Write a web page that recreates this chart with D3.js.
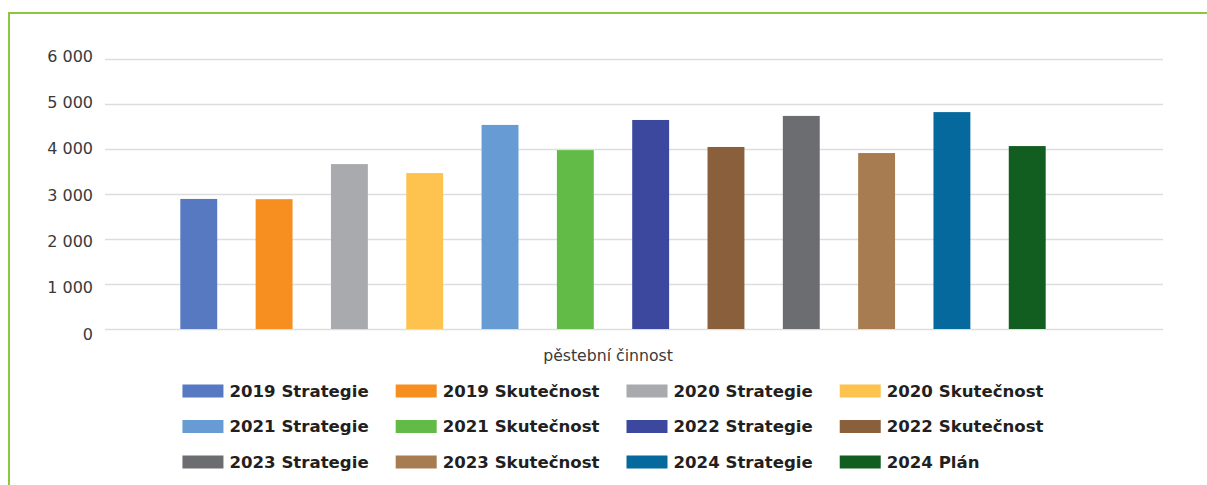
<!DOCTYPE html>
<html>
<head>
<meta charset="utf-8">
<script src="https://cdn.jsdelivr.net/npm/d3@7"></script>
<style>
  body { margin: 0; background: #fff; }
  svg { display: block; }
</style>
</head>
<body>
<script>
const categories = ["pěstební činnost"];
const series = [
  "2019 Strategie", "2019 Skutečnost", "2020 Strategie", "2020 Skutečnost",
  "2021 Strategie", "2021 Skutečnost", "2022 Strategie", "2022 Skutečnost",
  "2023 Strategie", "2023 Skutečnost", "2024 Strategie", "2024 Plán"
];
const values = [2890, 2885, 3665, 3465, 4535, 3975, 4645, 4045, 4735, 3910, 4820, 4065];
const colors = [
  "#5779c1", "#f68f1f", "#a9aaad", "#fec24f",
  "#669bd3", "#62bb46", "#3c489e", "#8a5f3b",
  "#6c6d71", "#a77c50", "#06699d", "#115e20"
];
const yTicks = [0, 1000, 2000, 3000, 4000, 5000, 6000];

const width = 1207;
const height = 485;
const font = "'DejaVu Sans', 'Liberation Sans', sans-serif";

const svg = d3.select("body").append("svg")
    .attr("width", width)
    .attr("height", height);

// green frame (top and left edges)
svg.append("line")
    .attr("x1", 8).attr("x2", width).attr("y1", 13).attr("y2", 13)
    .attr("stroke", "#8dc63f").attr("stroke-width", 2);
svg.append("line")
    .attr("x1", 9).attr("x2", 9).attr("y1", 12).attr("y2", height)
    .attr("stroke", "#8dc63f").attr("stroke-width", 2);

const plot = { left: 105, right: 1163, top: 59, bottom: 329 };

const y = d3.scaleLinear()
    .domain([0, 6000])
    .range([plot.bottom, plot.top]);

// tick labels sit on a slightly wider spread than the gridlines
const yLabel = d3.scaleLinear()
    .domain([0, 6000])
    .range([333.5, 55.5]);

const x0 = d3.scaleBand()
    .domain(categories)
    .range([plot.left, 1121]);

const x1 = d3.scaleBand()
    .domain(series)
    .range([0, x0.bandwidth()])
    .paddingInner(0.51)
    .paddingOuter(1.0);

const fmt = v => d3.format(",")(v).replace(/,/g, " ");

// gridlines + tick labels
const yAxis = svg.append("g")
    .attr("transform", `translate(${plot.left},0)`)
    .call(d3.axisLeft(y).tickValues(yTicks).tickSize(-(plot.right - plot.left)).tickPadding(12).tickFormat(fmt));
yAxis.select(".domain").remove();
yAxis.selectAll(".tick line").attr("stroke", "#dddddd").attr("stroke-width", 1.5);
yAxis.selectAll(".tick text")
    .attr("fill", "#3a3a3a")
    .attr("dy", null)
    .attr("y", d => yLabel(d) - y(d))
    .attr("dominant-baseline", "central")
    .style("font-family", font)
    .style("font-size", "16px");

// bars
svg.append("g")
  .selectAll("rect")
  .data(series)
  .join("rect")
    .attr("x", (d, i) => x0(categories[0]) + x1(d))
    .attr("y", (d, i) => y(values[i]))
    .attr("width", x1.bandwidth())
    .attr("height", (d, i) => y(0) - y(values[i]))
    .attr("fill", (d, i) => colors[i]);

// category label
svg.append("text")
    .attr("x", x0(categories[0]) + x0.bandwidth() / 2 - 5)
    .attr("y", 361)
    .attr("text-anchor", "middle")
    .attr("fill", "#3a3a3a")
    .style("font-family", font)
    .style("font-size", "15.7px")
    .text(categories[0]);

// legend: 4 columns, row-major
const legend = svg.append("g");
const cols = 4, swW = 41, swH = 13, rowH = 35.5;
const items = legend.selectAll("g")
  .data(series)
  .join("g");
items.append("rect")
    .attr("width", swW).attr("height", swH)
    .attr("y", -swH / 2)
    .attr("fill", (d, i) => colors[i]);
items.append("text")
    .attr("x", swW + 6)
    .attr("dy", "0.36em")
    .attr("fill", "#231f20")
    .style("font-family", font)
    .style("font-weight", "bold")
    .style("font-size", "16.6px")
    .text(d => d);

const textW = [];
items.select("text").each(function (d, i) {
  const c = i % cols;
  textW[c] = Math.max(textW[c] || 0, this.getComputedTextLength());
});
const colW = textW.map(w => swW + 6 + w + 27);
const colX = [0];
for (let c = 1; c < cols; c++) colX[c] = colX[c - 1] + colW[c - 1];
const totalW = colX[cols - 1] + swW + 6 + textW[cols - 1];
const legendLeft = x0(categories[0]) + x0.bandwidth() / 2 - totalW / 2;
items.attr("transform", (d, i) =>
  `translate(${legendLeft + colX[i % cols]},${391 + Math.floor(i / cols) * rowH})`);
</script>
</body>
</html>
